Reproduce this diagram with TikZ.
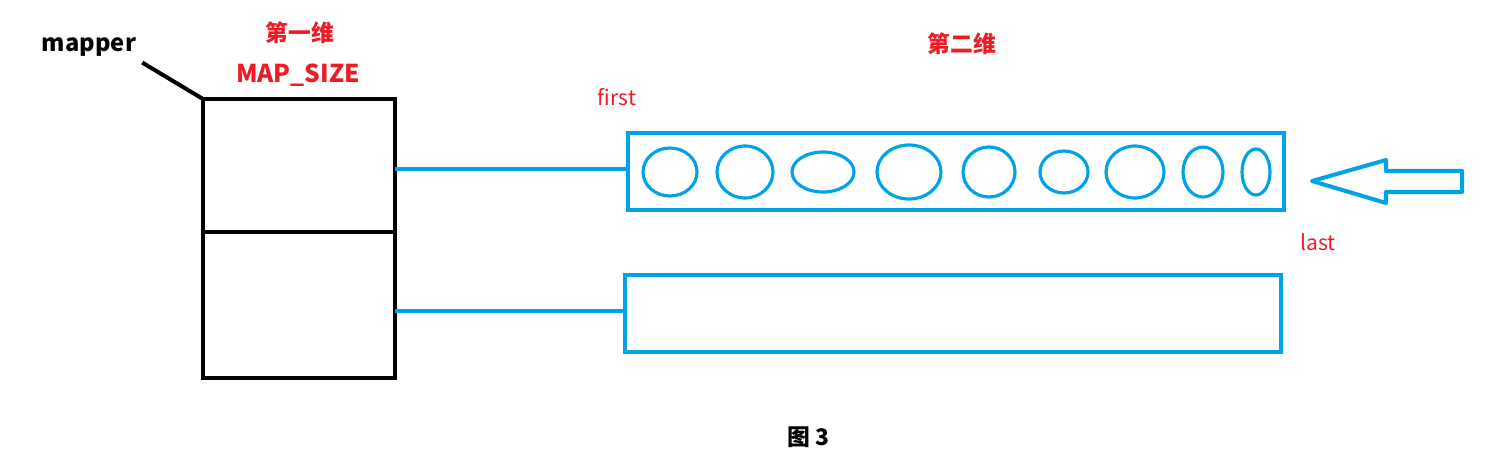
\documentclass[tikz,border=0pt]{standalone}
\usepackage{fontspec}
\setmainfont{Noto Sans CJK SC}
\usepackage{xcolor}
\usetikzlibrary{positioning, calc}

\definecolor{paintblue}{HTML}{00A2E8}
\definecolor{paintred}{HTML}{ED1C24}

\begin{document}
\begin{tikzpicture}[
  x=0.02cm, y=-0.02cm,
  cell/.style={rectangle, draw=black, line width=2.3pt, minimum width=3.84cm,
               inner sep=0pt, outer sep=0pt},
  bar/.style={rectangle, draw=paintblue, line width=2.3pt, minimum width=13.12cm,
              minimum height=1.54cm, inner sep=0pt, outer sep=0pt},
  link/.style={paintblue, line width=2.3pt},
  elem/.style={paintblue, line width=1.8pt},
  title/.style={font=\bfseries\fontsize{13}{15}\selectfont, text=paintred},
  tag/.style={font=\fontsize{12}{14}\selectfont, text=paintred},
]
  \useasboundingbox (0,0) rectangle (1487,474);

  % first dimension
  \node[cell, minimum height=2.66cm] (cell1) at (299,165.5) {};
  \node[cell, minimum height=2.92cm, anchor=north] (cell2) at (cell1.south) {};
  \node[font=\bfseries\fontsize{13.5}{15}\selectfont] (mapper) at (89,47) {mapper};
  \draw[line width=2.3pt] (mapper.south east) -- (cell1.north west);
  \node[title] (dim1) at (300,33) {第一维};
  \node[title, font=\bfseries\fontsize{14}{16}\selectfont] (mapsize) at (298,75) {MAP\_SIZE};

  % second dimension
  \node[title] (dim2) at (962,44) {第二维};
  \node[bar] (bar1) at (956,171.5) {};
  \node[bar] (bar2) at (953,313.5) {};
  \draw[link] (cell1.east |- 0,169) -- (bar1.west |- 0,169);
  \draw[link] (cell2.east |- 0,311) -- (bar2.west |- 0,311);
  \node[tag] (first) at (617,97) {first};
  \node[tag] (last) at (1318,242) {last};

  \foreach \cx/\rx/\ry in {670/27/24, 745/28/26, 823/31/20, 909/32/27, 989/26/25,
                           1064/24/21, 1135/29/26, 1203/20/25, 1256/14/23}
    \draw[elem] (\cx,172) ellipse [x radius=\rx, y radius=\ry];

  \draw[link, line join=round]
    (1312,181) -- (1386,160) -- (1386,171) -- (1462,171) -- (1462,192)
    -- (1386,192) -- (1386,203) -- cycle;

  \node[font=\bfseries\fontsize{13}{15}\selectfont] (caption) at (808,437) {图 3};
\end{tikzpicture}
\end{document}
